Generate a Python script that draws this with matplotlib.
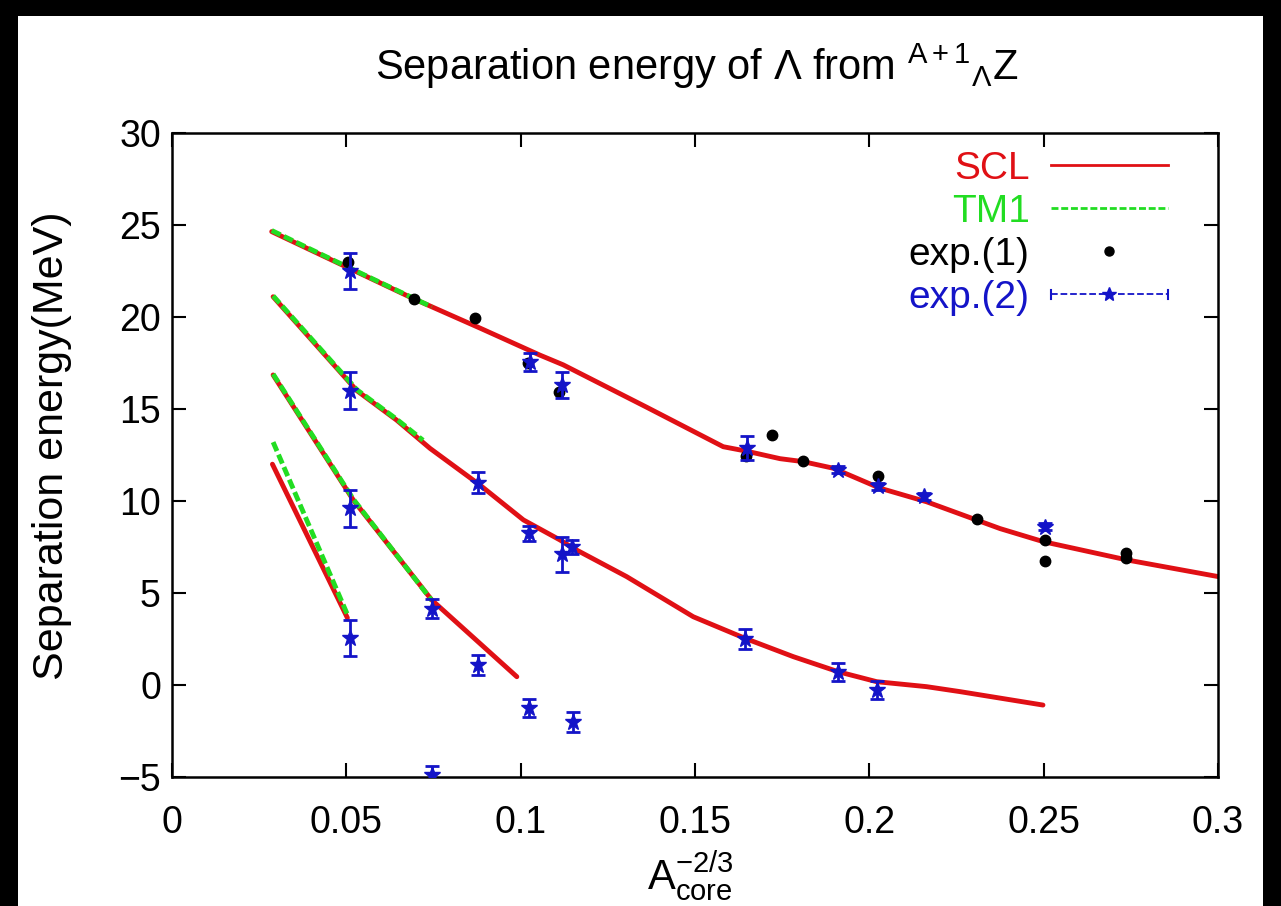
import matplotlib
matplotlib.use('Agg')
import matplotlib.pyplot as plt
from matplotlib.lines import Line2D
from matplotlib.legend_handler import HandlerLine2D
from matplotlib.patches import Rectangle

plt.rcParams['font.family'] = ['Liberation Sans', 'DejaVu Sans']
plt.rcParams['mathtext.fontset'] = 'custom'
plt.rcParams['mathtext.rm'] = 'Liberation Sans'
plt.rcParams['mathtext.it'] = 'Liberation Sans:italic'
plt.rcParams['mathtext.bf'] = 'Liberation Sans:bold'
plt.rcParams['mathtext.sf'] = 'Liberation Sans'
plt.rcParams['mathtext.default'] = 'regular'

# ---------------- data ----------------
# SCL model curves (red), one per Lambda orbital
scl1_x = [0.0286, 0.0692, 0.0883, 0.1055, 0.1122, 0.1361, 0.1581, 0.1650, 0.1744, 0.1810,
          0.1897, 0.2030, 0.2164, 0.2375, 0.2499, 0.2738, 0.3001]
scl1_y = [24.64, 21.0, 19.4, 17.93, 17.4, 15.1, 12.95, 12.7, 12.3, 12.14,
          11.78, 10.7, 9.96, 8.5, 7.79, 6.8, 5.89]
scl2_x = [0.029, 0.053, 0.0644, 0.074, 0.0883, 0.1008, 0.1113, 0.1151, 0.1304, 0.1495,
          0.1643, 0.1782, 0.1911, 0.2021, 0.2164, 0.226, 0.2498]
scl2_y = [21.1, 16.0, 14.4, 12.86, 10.87, 8.97, 7.88, 7.43, 5.89, 3.71,
          2.54, 1.54, 0.72, 0.18, -0.09, -0.36, -1.09]
scl3_x = [0.029, 0.052, 0.0745, 0.0989]
scl3_y = [16.85, 10.05, 4.62, 0.45]
scl4_x = [0.0288, 0.0503]
scl4_y = [12.0, 3.65]

# TM1 model curves (green)
tm1_1_x = [0.0286, 0.0500, 0.0745]
tm1_1_y = [24.7, 22.75, 20.55]
tm1_2_x = [0.029, 0.053, 0.0644, 0.072]
tm1_2_y = [21.15, 16.05, 14.45, 13.3]
tm1_3_x = [0.029, 0.052, 0.0745]
tm1_3_y = [16.9, 10.1, 4.6]
tm1_4_x = [0.029, 0.0506]
tm1_4_y = [13.2, 3.7]

# experimental data set (1) (black points)
exp1_x = [0.0505, 0.0694, 0.0869, 0.1020, 0.1110, 0.1646, 0.1720, 0.1810, 0.2025,
          0.2310, 0.2504, 0.2504, 0.2735, 0.2735]
exp1_y = [23.0, 21.0, 19.95, 17.5, 15.9, 12.45, 13.6, 12.2, 11.35,
          9.0, 7.9, 6.75, 7.2, 6.9]

# experimental data set (2) (blue stars with error bars)
exp2_x = [0.0511, 0.0511, 0.0511, 0.0511, 0.0745, 0.0745, 0.0879, 0.0879, 0.1024, 0.1024,
          0.1027, 0.1118, 0.1118, 0.1146, 0.1150, 0.1643, 0.1648, 0.1911, 0.1911,
          0.2021, 0.2026, 0.2157, 0.2504]
exp2_y = [22.5, 16.0, 9.6, 2.55, 4.15, -4.9, 1.1, 11.0, 8.25, -1.25,
          17.55, 16.3, 7.1, 7.5, -2.0, 2.5, 12.9, 0.72, 11.7,
          -0.28, 10.8, 10.25, 8.6]
exp2_err = [1.0, 1.0, 1.0, 1.0, 0.5, 0.5, 0.55, 0.55, 0.4, 0.5,
            0.5, 0.7, 0.95, 0.4, 0.55, 0.55, 0.65, 0.5, 0.2,
            0.5, 0.2, 0.2, 0.2]

x_ticks = [0, 0.05, 0.1, 0.15, 0.2, 0.25, 0.3]
x_ticklabels = ['0', '0.05', '0.1', '0.15', '0.2', '0.25', '0.3']
y_ticks = [-5, 0, 5, 10, 15, 20, 25, 30]

RED = '#e01015'
GREEN = '#22dd22'
BLUE = '#1414c8'

# ---------------- figure ----------------
W, H = 1281, 906
fig = plt.figure(figsize=(W / 100, H / 100), dpi=100)
fig.patch.set_facecolor('black')
fig.add_artist(Rectangle((18 / W, 0), (W - 18 - 18) / W, (H - 16) / H,
                         transform=fig.transFigure, facecolor='white',
                         edgecolor='none', zorder=-10))

ax = fig.add_axes([172 / W, 1 - 777 / H, (1218 - 172) / W, (777 - 133) / H])

lw = 3.5
for xs, ys in [(scl1_x, scl1_y), (scl2_x, scl2_y), (scl3_x, scl3_y), (scl4_x, scl4_y)]:
    ax.plot(xs, ys, color=RED, lw=lw, solid_capstyle='round', zorder=2)
for xs, ys in [(tm1_1_x, tm1_1_y), (tm1_2_x, tm1_2_y), (tm1_3_x, tm1_3_y), (tm1_4_x, tm1_4_y)]:
    ax.plot(xs, ys, color=GREEN, lw=lw, dashes=(2.0, 0.8), zorder=3)

ax.plot(exp1_x, exp1_y, 'o', color='black', ms=7.5, zorder=4)
ax.errorbar(exp2_x, exp2_y, yerr=exp2_err, fmt='*', color=BLUE, ms=12,
            elinewidth=2.0, capsize=5, capthick=2.0, zorder=5)

ax.set_xlim(0, 0.3)
ax.set_ylim(-5, 30)
ax.set_xticks(x_ticks)
ax.set_xticklabels(x_ticklabels)
ax.set_yticks(y_ticks)
ax.tick_params(direction='in', length=10, width=1.5, top=True, right=True,
               labelsize=27)
ax.tick_params(axis='x', pad=20)
ax.tick_params(axis='y', pad=8)
for sp in ax.spines.values():
    sp.set_linewidth(1.8)

# ---------------- legend ----------------
class CapHandler(HandlerLine2D):
    def create_artists(self, legend, orig_handle, xdescent, ydescent, width,
                       height, fontsize, trans):
        arts = super().create_artists(legend, orig_handle, xdescent, ydescent,
                                      width, height, fontsize, trans)
        yc = height / 2 - ydescent
        for xx in (-xdescent, -xdescent + width):
            cap = Line2D([xx, xx], [yc - 3, yc + 3], color=BLUE, lw=1.5)
            cap.set_transform(trans)
            arts.append(cap)
        return arts

h_scl = Line2D([], [], color=RED, lw=2)
h_tm1 = Line2D([], [], color=GREEN, lw=2, dashes=(2.5, 1.0))
h_e1 = Line2D([], [], color='black', marker='o', ls='none', ms=6.5)
h_e2 = Line2D([], [], color=BLUE, lw=1.3, ls='--', marker='*', ms=10)
leg = ax.legend([h_scl, h_tm1, h_e1, h_e2], ['SCL', 'TM1', 'exp.(1)', 'exp.(2)'],
                loc='upper right', bbox_to_anchor=(0.952, 0.972), borderaxespad=0,
                borderpad=0, frameon=False, markerfirst=False, fontsize=28,
                handlelength=3.0, handletextpad=0.55, labelspacing=0.18,
                numpoints=1, labelcolor=[RED, GREEN, 'black', BLUE],
                handler_map={h_e2: CapHandler()})

# ---------------- labels ----------------
fig.text(697 / W, 1 - 66 / H,
         r'Separation energy of $\Lambda$ from $^{A+1}{}_{\Lambda}$Z',
         ha='center', va='center', fontsize=30)
fig.text(52 / W, 1 - 446 / H, 'Separation energy(MeV)', rotation=90,
         ha='center', va='center', fontsize=31)
fig.text(690 / W, 1 - 889 / H, r'$A_{core}^{-2/3}$', ha='center',
         va='baseline', fontsize=30)

fig.savefig('out.png', dpi=100, facecolor=fig.get_facecolor())
